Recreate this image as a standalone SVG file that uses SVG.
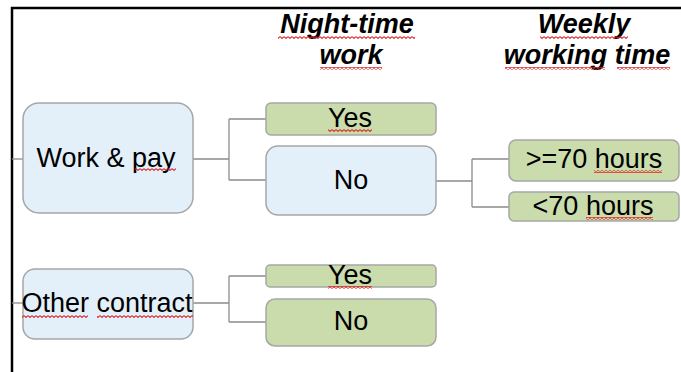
<svg xmlns="http://www.w3.org/2000/svg" width="681" height="372" viewBox="0 0 681 372">
<style>
.t{font-family:"Liberation Sans",Arial,sans-serif;font-size:27px;fill:#000;text-anchor:middle}
.h{font-weight:bold;font-style:italic}
.blue{fill:#E3F0FA;stroke:#A6A6A6;stroke-width:1.5}
.green{fill:#CADCAC;stroke:#A6A6A6;stroke-width:1.5}
.con{fill:none;stroke:#8C8C8C;stroke-width:1.3}
.sq{fill:url(#sq)}
</style>
<defs>
<pattern id="sq" width="4" height="3" patternUnits="userSpaceOnUse">
<path d="M0,0.6 L2,2.4 L4,0.6" fill="none" stroke="#E02020" stroke-width="1.1"/>
</pattern>
</defs>
<rect width="681" height="372" fill="#fff"/>
<path d="M12,372 V8 H681" fill="none" stroke="#000" stroke-width="2.5"/>

<g id="headers">
<text class="t h" x="347" y="33">Night-time</text>
<text class="t h" x="351" y="64">work</text>
<text class="t h" x="584" y="33">Weekly</text>
<text class="t h" x="587" y="64">working time</text>
<rect class="sq" x="278" y="36" width="137" height="3"/>
<rect class="sq" x="320" y="67" width="62" height="3"/>
<rect class="sq" x="540" y="36" width="88" height="3"/>
<rect class="sq" x="505" y="67" width="100" height="3"/>
<rect class="sq" x="617" y="67" width="53" height="3"/>
</g>

<g id="connectors">
<path class="con" d="M12,159 H23"/>
<path class="con" d="M193,159 H229 M229,119 V180 M229,119 H266 M229,180 H266"/>
<path class="con" d="M436,181 H472 M472,159 V207 M472,159 H509 M472,207 H509"/>
<path class="con" d="M12,303 H23"/>
<path class="con" d="M193,303 H229 M229,276 V322 M229,276 H266 M229,322 H266"/>
</g>

<g id="work-pay">
<rect class="blue" x="23" y="103" width="170" height="110" rx="16"/>
<text class="t" x="106" y="167">Work &amp; pay</text>
<rect class="sq" x="135" y="168" width="41" height="3"/>
</g>

<g id="wp-yes">
<rect class="green" x="266" y="103" width="170" height="32" rx="5"/>
<text class="t" x="350" y="127">Yes</text>
<rect class="sq" x="328" y="129" width="44" height="3"/>
</g>

<g id="wp-no">
<rect class="blue" x="266" y="146" width="170" height="69" rx="12"/>
<text class="t" x="351" y="189">No</text>
</g>

<g id="ge70">
<rect class="green" x="509" y="140" width="170" height="41" rx="7"/>
<text class="t" x="594" y="168">&gt;=70 hours</text>
<rect class="sq" x="594" y="170" width="68" height="3"/>
</g>

<g id="lt70">
<rect class="green" x="509" y="192" width="170" height="29" rx="5"/>
<text class="t" x="593" y="215">&lt;70 hours</text>
<rect class="sq" x="586" y="217" width="67" height="3"/>
</g>

<g id="other-contract">
<rect class="blue" x="23" y="269" width="170" height="70" rx="12"/>
<text class="t" x="107" y="312">Other contract</text>
<rect class="sq" x="22" y="315" width="66" height="3"/>
<rect class="sq" x="97" y="315" width="96" height="3"/>
</g>

<g id="oc-yes">
<rect class="green" x="266" y="265" width="170" height="22" rx="4"/>
<text class="t" x="350" y="284">Yes</text>
<rect class="sq" x="328" y="286" width="44" height="3"/>
</g>

<g id="oc-no">
<rect class="green" x="266" y="299" width="170" height="47" rx="9"/>
<text class="t" x="351" y="330">No</text>
</g>
</svg>
